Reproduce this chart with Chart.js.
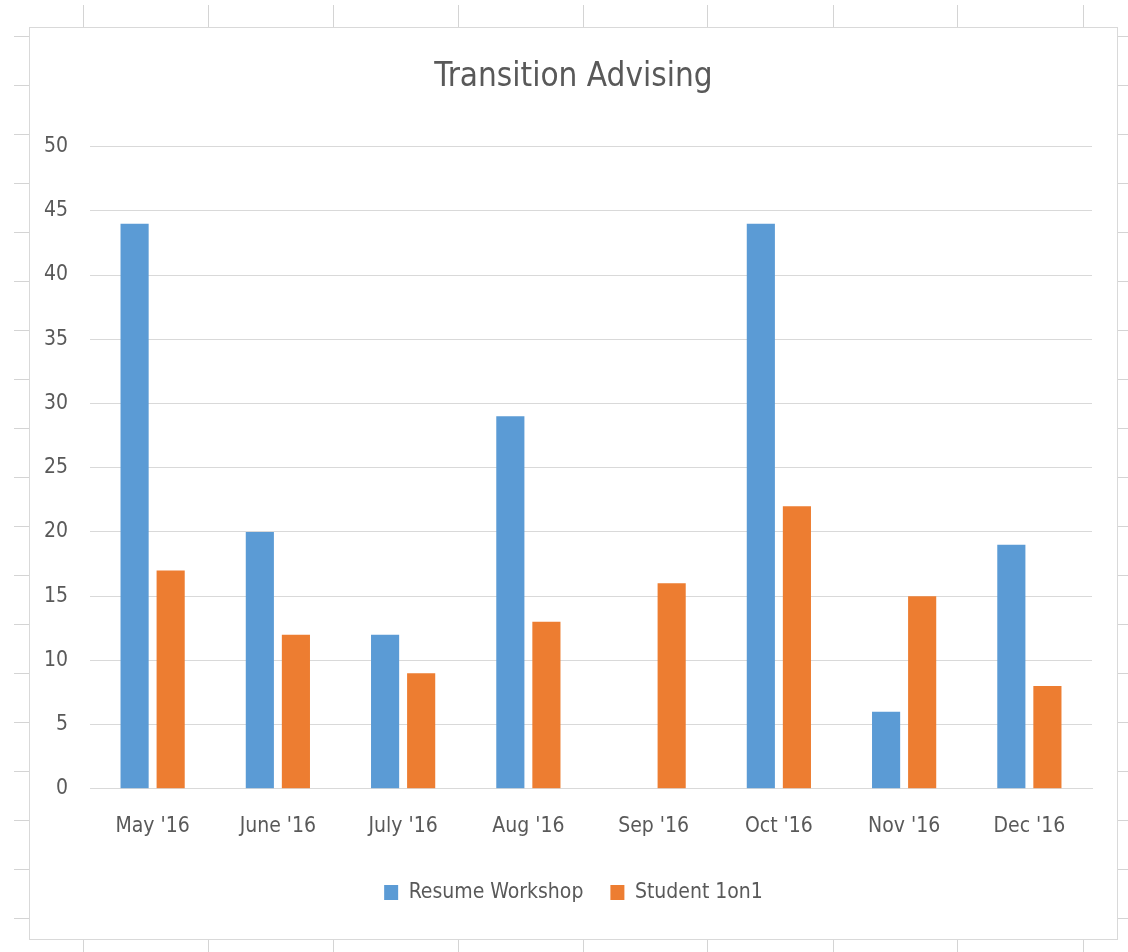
<!DOCTYPE html>
<html>
<head>
<meta charset="utf-8">
<script src="https://cdn.jsdelivr.net/npm/chart.js@4.4.0/dist/chart.umd.min.js"></script>
<style>
  html, body { margin: 0; padding: 0; background: #fff; }
  body { width: 1128px; height: 952px; position: relative; overflow: hidden; }
  .sheet-v { position: absolute; width: 1px; background: #d4d4d4; }
  .sheet-h { position: absolute; height: 1px; background: #d4d4d4; }
  #box {
    position: absolute; left: 29px; top: 27px; width: 1089px; height: 913px;
    border: 1px solid #d9d9d9; box-sizing: border-box; background: #fff;
  }
  #box canvas { display: block; }
</style>
</head>
<body>
<div id="box"><canvas id="chart" width="1087" height="911"></canvas></div>
<script>
const labels = ["May '16", "June '16", "July '16", "Aug '16", "Sep '16", "Oct '16", "Nov '16", "Dec '16"];
const resumeWorkshop = [44, 20, 12, 29, null, 44, 6, 19];
const student1on1 = [17, 12, 9, 13, 16, 22, 15, 8];
const yTicks = [0, 5, 10, 15, 20, 25, 30, 35, 40, 45, 50];

// spreadsheet cell lines around the chart object
const sheetCols = [83, 208, 333, 458, 583, 707, 833, 957, 1083];
const sheetRows = [36, 85, 134, 183, 232, 281, 330, 379, 428, 477, 526, 575, 624, 673, 722, 771, 820, 869, 918];
sheetCols.forEach(x => {
    [[5, 22], [940, 12]].forEach(([top, h]) => {
        const d = document.createElement('div');
        d.className = 'sheet-v';
        d.style.left = x + 'px'; d.style.top = top + 'px'; d.style.height = h + 'px';
        document.body.appendChild(d);
    });
});
sheetRows.forEach(y => {
    [[14, 15], [1118, 10]].forEach(([left, w]) => {
        const d = document.createElement('div');
        d.className = 'sheet-h';
        d.style.top = y + 'px'; d.style.left = left + 'px'; d.style.width = w + 'px';
        document.body.appendChild(d);
    });
});

const FONT = "'DejaVu Sans Condensed', 'DejaVu Sans', sans-serif";
const GREY = '#595959';

const ctx = document.getElementById('chart').getContext('2d');
new Chart(ctx, {
    type: 'bar',
    data: {
        labels: labels,
        datasets: [
            {
                label: 'Resume Workshop',
                data: resumeWorkshop,
                backgroundColor: '#5B9BD5',
                categoryPercentage: 0.576,
                barPercentage: 0.78
            },
            {
                label: 'Student 1on1',
                data: student1on1,
                backgroundColor: '#ED7D31',
                categoryPercentage: 0.576,
                barPercentage: 0.78
            }
        ]
    },
    options: {
        responsive: false,
        animation: false,
        layout: { padding: { left: 0, right: 0, top: 0, bottom: 26 } },
        plugins: {
            title: {
                display: true,
                text: 'Transition Advising',
                color: GREY,
                font: { family: FONT, size: 33, weight: 'normal' },
                padding: { top: 30, bottom: 49 }
            },
            legend: {
                position: 'bottom',
                labels: {
                    color: GREY,
                    font: { family: FONT, size: 21 },
                    boxWidth: 14,
                    boxHeight: 15,
                    padding: 27
                }
            },
            tooltip: { enabled: false }
        },
        scales: {
            x: {
                afterFit: function(scale) { scale.height = scale.height - 9; },
                grid: { display: false, drawTicks: false },
                border: { display: true, color: '#d9d9d9' },
                ticks: { color: GREY, font: { family: FONT, size: 21 }, padding: 25 }
            },
            y: {
                min: 0,
                max: 50,
                afterFit: function(scale) { scale.width = 60; },
                afterBuildTicks: function(scale) { scale.ticks = yTicks.map(v => ({ value: v })); },
                grid: { color: '#d9d9d9', drawTicks: false },
                border: { display: false },
                ticks: { color: GREY, font: { family: FONT, size: 21 }, padding: 22 }
            },
            // empty right-hand margin so the title and legend stay centred on the box
            yRight: {
                position: 'right',
                min: 0,
                max: 50,
                afterFit: function(scale) { scale.width = 25; },
                grid: { display: false, drawTicks: false },
                border: { display: false },
                ticks: { display: false }
            }
        }
    }
});
</script>
</body>
</html>
